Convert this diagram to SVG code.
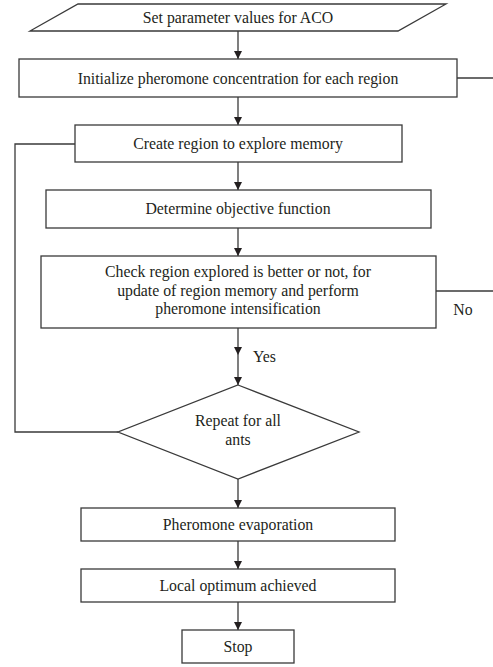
<svg xmlns="http://www.w3.org/2000/svg" width="493" height="667" viewBox="0 0 493 667">
  <style>
    .shape { fill: #ffffff; stroke: #3a3a3a; stroke-width: 1.3; }
    .conn { fill: none; stroke: #3a3a3a; stroke-width: 1.3; }
    .lbl { font-family: "Liberation Serif", "Times New Roman", serif; font-size: 15.8px; fill: #231f20; text-anchor: middle; }
    .lbl-start { font-family: "Liberation Serif", "Times New Roman", serif; font-size: 15.8px; fill: #231f20; text-anchor: start; }
  </style>
  <defs>
    <marker id="arrow" viewBox="0 0 10 10" refX="10" refY="5" markerWidth="8" markerHeight="8" markerUnits="userSpaceOnUse" orient="auto">
      <path d="M0,0 L10,5 L0,10 Z" fill="#231f20"/>
    </marker>
  </defs>
  <rect width="493" height="667" fill="#ffffff"/>

  <g id="connectors">
    <line class="conn" x1="238" y1="31" x2="238" y2="59" marker-end="url(#arrow)"/>
    <line class="conn" x1="238" y1="97" x2="238" y2="125" marker-end="url(#arrow)"/>
    <line class="conn" x1="238" y1="162" x2="238" y2="190" marker-end="url(#arrow)"/>
    <line class="conn" x1="238" y1="228" x2="238" y2="256" marker-end="url(#arrow)"/>
    <line class="conn" x1="238" y1="328" x2="238" y2="355" marker-end="url(#arrow)"/>
    <line class="conn" x1="238" y1="355" x2="238" y2="385" marker-end="url(#arrow)"/>
    <line class="conn" x1="238" y1="479" x2="238" y2="508" marker-end="url(#arrow)"/>
    <line class="conn" x1="238" y1="541" x2="238" y2="569" marker-end="url(#arrow)"/>
    <line class="conn" x1="238" y1="602" x2="238" y2="630" marker-end="url(#arrow)"/>
    <polyline class="conn" points="118,432 15,432 15,144 75,144"/>
    <line class="conn" x1="457" y1="78" x2="493" y2="78"/>
    <line class="conn" x1="436" y1="291" x2="493" y2="291"/>
    <text class="lbl" x="463" y="315">No</text>
    <text class="lbl-start" x="253" y="362">Yes</text>
  </g>

  <g id="node-params">
    <polygon class="shape" points="78,4 446,4 398,31 30,31"/>
    <text class="lbl" x="238" y="23">Set parameter values for ACO</text>
  </g>
  <g id="node-init">
    <rect class="shape" x="19" y="59" width="438" height="38"/>
    <text class="lbl" x="238" y="83.5">Initialize pheromone concentration for each region</text>
  </g>
  <g id="node-create">
    <rect class="shape" x="75" y="125" width="327" height="37"/>
    <text class="lbl" x="238" y="148.5">Create region to explore memory</text>
  </g>
  <g id="node-objective">
    <rect class="shape" x="46" y="190" width="385" height="38"/>
    <text class="lbl" x="238" y="214">Determine objective function</text>
  </g>
  <g id="node-check">
    <rect class="shape" x="41" y="256" width="395" height="72"/>
    <text class="lbl" x="238" y="277">Check region explored is better or not, for</text>
    <text class="lbl" x="238" y="295.5">update of region memory and perform</text>
    <text class="lbl" x="238" y="314">pheromone intensification</text>
  </g>
  <g id="node-repeat">
    <polygon class="shape" points="238,385 359,432 238,479 118,432"/>
    <text class="lbl" x="238" y="426">Repeat for all</text>
    <text class="lbl" x="238" y="445">ants</text>
  </g>
  <g id="node-evaporation">
    <rect class="shape" x="81" y="508" width="314" height="33"/>
    <text class="lbl" x="238" y="529.5">Pheromone evaporation</text>
  </g>
  <g id="node-local">
    <rect class="shape" x="81" y="569" width="314" height="33"/>
    <text class="lbl" x="238" y="590.5">Local optimum achieved</text>
  </g>
  <g id="node-stop">
    <rect class="shape" x="182" y="630" width="112" height="33"/>
    <text class="lbl" x="238" y="651.5">Stop</text>
  </g>
</svg>
